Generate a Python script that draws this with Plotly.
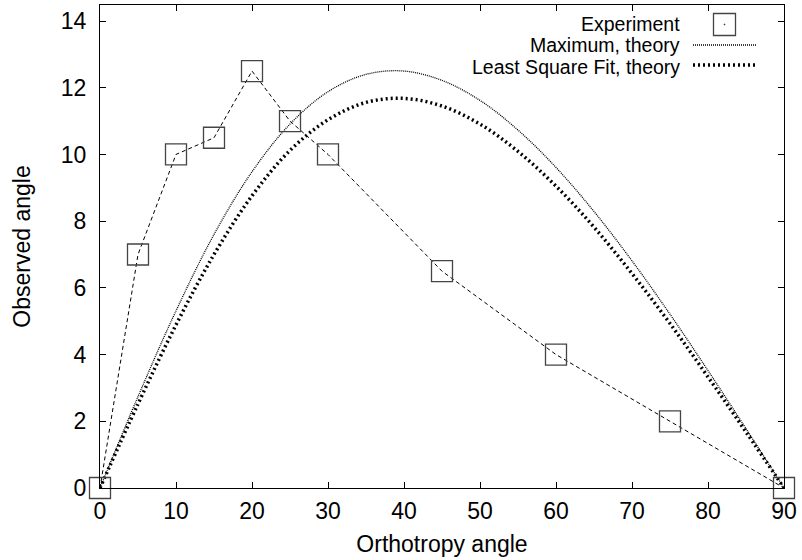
import plotly.graph_objects as go

# ---- data ----
exp_x = [0, 5, 10, 15, 20, 25, 30, 45, 60, 75, 90]
exp_y = [0, 7, 10, 10.5, 12.5, 11, 10, 6.5, 4, 2, 0]

theory_x = [0, 5, 10, 15, 20, 25, 30, 35, 40, 45, 50, 55, 60, 65, 70, 75, 80, 85, 90]
max_y = [0, 2.74, 5.31, 7.60, 9.48, 10.91, 11.88, 12.40, 12.50, 12.22, 11.62,
         10.73, 9.61, 8.29, 6.81, 5.21, 3.52, 1.78, 0]
lsf_y = [0, 2.52, 4.89, 7.00, 8.76, 10.12, 11.04, 11.56, 11.68, 11.45, 10.91,
         10.09, 9.05, 7.82, 6.43, 4.93, 3.33, 1.68, 0]

x_ticks = list(range(0, 91, 10))
y_ticks = list(range(0, 15, 2))

legend_labels = ["Experiment", "Maximum, theory", "Least Square Fit, theory"]

FONT = "Liberation Sans, Arial, Helvetica, sans-serif"
FS = 23
LFS = 19.5

fig = go.Figure()

# theory curves
fig.add_trace(go.Scatter(x=theory_x, y=max_y, mode="lines", line_shape="spline",
                         line=dict(color="black", width=1.3, dash="1px,1px"),
                         showlegend=False, hoverinfo="skip"))
fig.add_trace(go.Scatter(x=theory_x, y=lsf_y, mode="lines", line_shape="spline",
                         line=dict(color="black", width=3.5, dash="2px,3px"),
                         showlegend=False, hoverinfo="skip"))

# experiment dashed line
fig.add_trace(go.Scatter(x=exp_x, y=exp_y, mode="lines",
                         line=dict(color="black", width=1, dash="4px,3px"),
                         showlegend=False, hoverinfo="skip"))
# experiment markers
fig.add_trace(go.Scatter(x=exp_x, y=exp_y, mode="markers", cliponaxis=False,
                         marker=dict(symbol="square-open", size=21, color="#444",
                                     line=dict(width=1.3, color="#444")),
                         showlegend=False))

# ---- custom legend (gnuplot style: text then sample on the right) ----
PL, PR, PT, PB = 100, 784, 5, 487.7
def px(x):
    return (x - PL) / (PR - PL)
def py(y):
    return (PB - y) / (PB - PT)

rows = [23.5, 45, 66.5]
for lab, r in zip(legend_labels, rows):
    fig.add_annotation(x=px(682), y=py(r), xref="paper", yref="paper",
                       text=lab, showarrow=False, xanchor="right", yanchor="middle",
                       font=dict(family=FONT, size=LFS, color="black"))

shapes = [
    dict(type="rect", xref="paper", yref="paper",
         x0=px(713.5), x1=px(735.5), y0=py(35.5), y1=py(13.5),
         line=dict(color="#444", width=1.3)),
    dict(type="rect", xref="paper", yref="paper",
         x0=px(724), x1=px(725), y0=py(25), y1=py(24),
         line=dict(color="#444", width=0.6), fillcolor="#444"),
    dict(type="line", xref="paper", yref="paper",
         x0=px(693), x1=px(756), y0=py(45), y1=py(45),
         line=dict(color="black", width=1.3, dash="1px,1px")),
    dict(type="line", xref="paper", yref="paper",
         x0=px(693), x1=px(756), y0=py(65), y1=py(65),
         line=dict(color="black", width=3.5, dash="2px,3px")),
]

axis_common = dict(showgrid=False, zeroline=False, showline=True, linecolor="black",
                   linewidth=1, mirror="allticks", ticks="inside", ticklen=6,
                   tickcolor="black", tickwidth=1,
                   tickfont=dict(family=FONT, size=FS, color="black"))

fig.update_layout(
    width=802, height=560,
    margin=dict(l=100, r=18, t=5, b=72.3),
    plot_bgcolor="white", paper_bgcolor="white",
    font=dict(family=FONT, size=FS, color="black"),
    shapes=shapes,
    xaxis=dict(range=[0, 90], tickvals=x_ticks, ticklabelstandoff=2,
               title=dict(text="Orthotropy angle", font=dict(family=FONT, size=FS), standoff=13),
               **axis_common),
    yaxis=dict(range=[0, 14.48], tickvals=y_ticks, ticklabelstandoff=8,
               title=dict(text="Observed angle", font=dict(family=FONT, size=FS), standoff=23),
               **axis_common),
)

fig.write_html("out.html", config={"displayModeBar": False},
               post_script="document.body.style.margin='0';")
